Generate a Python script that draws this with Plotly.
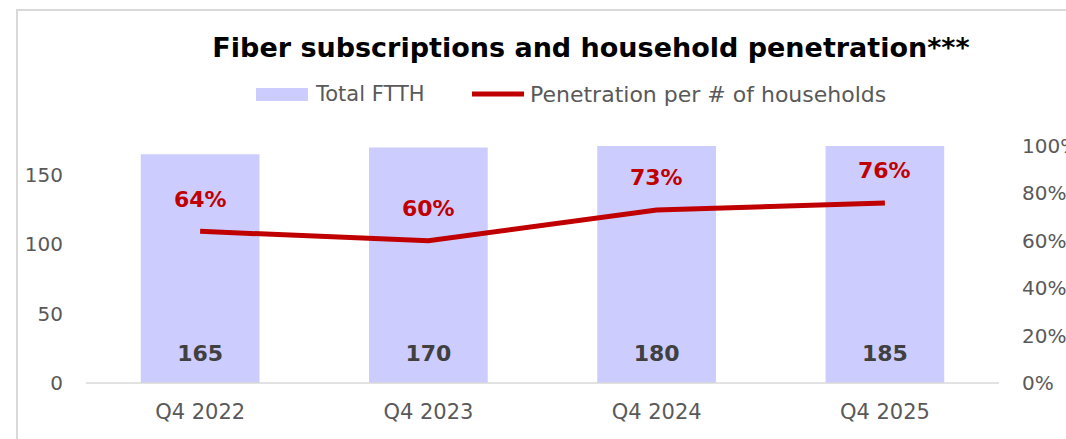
import plotly.graph_objects as go

# Chart data
quarters = ["Q4 2022", "Q4 2023", "Q4 2024", "Q4 2025"]
total_ftth = [165, 170, 180, 185]
penetration = [0.64, 0.60, 0.73, 0.76]

left_ticks = [0, 50, 100, 150]

BAR_COLOR = "#CCCCFF"
LINE_COLOR = "#C00000"
AXIS_TEXT = "#595959"
LABEL_DARK = "#404040"
FONT = "'DejaVu Sans', sans-serif"

fig = go.Figure()

fig.add_trace(go.Bar(
    x=quarters, y=total_ftth, marker_color=BAR_COLOR, width=0.52,
    marker_line_width=0, showlegend=False, hoverinfo="skip",
))

# value labels near the bar base
fig.add_trace(go.Scatter(
    x=quarters, y=[20] * len(quarters), mode="text",
    text=[str(v) for v in total_ftth],
    textfont=dict(family=FONT, size=22, color=LABEL_DARK, weight="bold"),
    showlegend=False, hoverinfo="skip",
))

fig.add_trace(go.Scatter(
    x=quarters, y=penetration, yaxis="y2", mode="lines",
    line=dict(color=LINE_COLOR, width=5), showlegend=False, hoverinfo="skip",
))

annotations = []
for q, p in zip(quarters, penetration):
    annotations.append(dict(
        x=q, y=p, xref="x", yref="y2", yshift=32, showarrow=False,
        text=f"{round(p * 100)}%",
        font=dict(family=FONT, size=22, color=LINE_COLOR, weight="bold"),
    ))

# legend drawn as swatches plus labels
legend_y = 1.219
annotations += [
    dict(x=(313 - 86) / 913, y=legend_y, xref="paper", yref="paper", xanchor="left",
         yanchor="middle", showarrow=False, text="Total FTTH",
         font=dict(family=FONT, size=21, color=AXIS_TEXT)),
    dict(x=(528 - 86) / 913, y=legend_y, xref="paper", yref="paper", xanchor="left",
         yanchor="middle", showarrow=False, text="Penetration per # of households",
         font=dict(family=FONT, size=22, color=AXIS_TEXT)),
]

shapes = [
    # outer frame
    dict(type="rect", xref="paper", yref="paper",
         x0=(17 - 86) / 913, x1=(1075 - 86) / 913,
         y0=(383 - 450) / 237, y1=(383 - 10) / 237,
         line=dict(color="#D9D9D9", width=2), fillcolor="rgba(0,0,0,0)", layer="below"),
    # baseline
    dict(type="line", xref="paper", yref="paper", x0=0, x1=1, y0=0, y1=0,
         line=dict(color="#D9D9D9", width=1.5)),
    # legend swatches
    dict(type="rect", xref="paper", yref="paper",
         x0=(256 - 86) / 913, x1=(308 - 86) / 913,
         y0=(383 - 101) / 237, y1=(383 - 88) / 237,
         fillcolor=BAR_COLOR, line_width=0),
    dict(type="line", xref="paper", yref="paper",
         x0=(472 - 86) / 913, x1=(524 - 86) / 913,
         y0=legend_y, y1=legend_y,
         line=dict(color=LINE_COLOR, width=5)),
]

fig.update_layout(
    width=1066, height=439,
    margin=dict(l=86, r=67, t=146, b=56),
    paper_bgcolor="white", plot_bgcolor="white",
    title=dict(text="<b>Fiber subscriptions and household penetration***</b>",
               x=591 / 1066, xanchor="center", y=1 - 48 / 439, yanchor="middle",
               font=dict(family=FONT, size=27, color="black")),
    xaxis=dict(showgrid=False, showline=False, ticks="", zeroline=False, automargin=False,
               tickfont=dict(family=FONT, size=21, color=AXIS_TEXT), ticklabelstandoff=14),
    yaxis=dict(range=[0, 171], tickvals=left_ticks, showgrid=False, zeroline=False,
               showline=False, ticks="", ticklabelstandoff=22, automargin=False,
               tickfont=dict(family=FONT, size=20, color=AXIS_TEXT)),
    yaxis2=dict(range=[0, 1], overlaying="y", side="right", dtick=0.2, tickformat=".0%",
                showgrid=False, zeroline=False, showline=False, ticks="", ticklabelstandoff=22,
                automargin=False,
                tickfont=dict(family=FONT, size=20, color=AXIS_TEXT)),
    annotations=annotations, shapes=shapes,
    bargap=0.48,
)

fig.write_html("out.html")
